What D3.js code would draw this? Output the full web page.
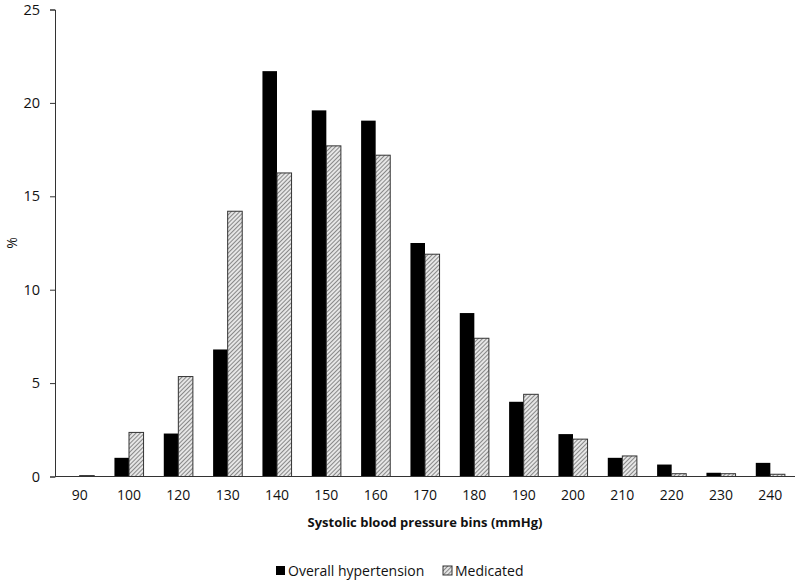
<!DOCTYPE html>
<html>
<head>
<meta charset="utf-8">
<script src="https://cdn.jsdelivr.net/npm/d3@7"></script>
<style>
  body { margin: 0; background: #fff; }
  svg text { font-family: "Open Sans", "Liberation Sans", sans-serif; fill: #111; }
</style>
</head>
<body>
<svg id="chart"></svg>
<script>
// bins and the two series (percent)
var bins = ["90", "100", "120", "130", "140", "150", "160", "170", "180", "190", "200", "210", "220", "230", "240"];
var overall = [0, 1.0, 2.3, 6.8, 21.7, 19.6, 19.05, 12.5, 8.75, 4.0, 2.27, 1.0, 0.64, 0.2, 0.73];
var medicated = [0.05, 2.36, 5.35, 14.2, 16.25, 17.7, 17.2, 11.9, 7.4, 4.4, 2.0, 1.1, 0.15, 0.15, 0.12];
var yTicks = [0, 5, 10, 15, 20, 25];
var seriesNames = ["Overall hypertension", "Medicated"];

var width = 800,
    height = 582;

var svg = d3.select("#chart")
  .attr("width", width)
  .attr("height", height);

// hatch pattern for the medicated series
var defs = svg.append("defs");
defs.append("pattern")
  .attr("id", "hatch")
  .attr("patternUnits", "userSpaceOnUse")
  .attr("width", 3)
  .attr("height", 3)
  .attr("patternTransform", "rotate(45)")
  .call(function(p) {
    p.append("rect").attr("width", 3).attr("height", 3).attr("fill", "#e6e6e6");
    p.append("line").attr("x1", 0).attr("y1", 0).attr("x2", 0).attr("y2", 3)
      .attr("stroke", "#555").attr("stroke-width", 1.3);
  });

var x = d3.scaleBand()
  .domain(bins)
  .range([55, 795])
  .paddingInner(0.41)
  .paddingOuter(0.205);

var y = d3.scaleLinear()
  .domain([0, 25])
  .range([476.5, 9.5]);

var sub = d3.scaleBand()
  .domain([0, 1])
  .range([0, x.bandwidth()]);

var rows = bins.map(function(b, i) { return {bin: b, vals: [overall[i], medicated[i]]}; });

var groups = svg.append("g").selectAll("g")
  .data(rows)
.enter().append("g")
  .attr("transform", function(d) { return "translate(" + x(d.bin) + ",0)"; });

groups.selectAll("rect")
  .data(function(d) { return d.vals.map(function(v, k) { return {k: k, v: v}; }); })
.enter().append("rect")
  .attr("x", function(d) { return sub(d.k); })
  .attr("width", sub.bandwidth())
  .attr("y", function(d) { return y(d.v); })
  .attr("height", function(d) { return y(0) - y(d.v); })
  .attr("fill", function(d) { return d.k === 0 ? "#000" : "url(#hatch)"; })
  .attr("stroke", function(d) { return d.k === 0 ? "none" : "#333"; })
  .attr("stroke-width", 1);

// y axis
var yAxis = svg.append("g")
  .attr("transform", "translate(55,0)")
  .call(d3.axisLeft(y).tickValues(yTicks).tickSize(5).tickPadding(10));
yAxis.select(".domain").attr("stroke", "#333");
yAxis.selectAll(".tick line").attr("stroke", "#333");
yAxis.selectAll("text").style("font-size", "14.5px");

// x axis
var xAxis = svg.append("g")
  .attr("transform", "translate(0," + y(0) + ")")
  .call(d3.axisBottom(x).tickSize(0).tickPadding(14));
xAxis.select(".domain").attr("stroke", "#333").attr("d", "M55,0H795");
xAxis.selectAll("text").style("font-size", "14px");

svg.append("text")
  .attr("x", 425)
  .attr("y", 527)
  .attr("text-anchor", "middle")
  .style("font-size", "13px")
  .style("font-weight", "bold")
  .text("Systolic blood pressure bins (mmHg)");

svg.append("text")
  .attr("transform", "translate(17,243) rotate(-90)")
  .attr("text-anchor", "middle")
  .style("font-size", "14px")
  .text("%");

// legend
var legendX = [276, 443];
var legend = svg.append("g").selectAll("g")
  .data(seriesNames)
.enter().append("g")
  .attr("transform", function(d, i) { return "translate(" + legendX[i] + ",566)"; });

legend.append("rect")
  .attr("width", 9)
  .attr("height", 9)
  .attr("fill", function(d, i) { return i === 0 ? "#000" : "url(#hatch)"; })
  .attr("stroke", function(d, i) { return i === 0 ? "none" : "#333"; });

legend.append("text")
  .attr("x", 12)
  .attr("y", 9.5)
  .style("font-size", "14px")
  .text(function(d) { return d; });
</script>
</body>
</html>
